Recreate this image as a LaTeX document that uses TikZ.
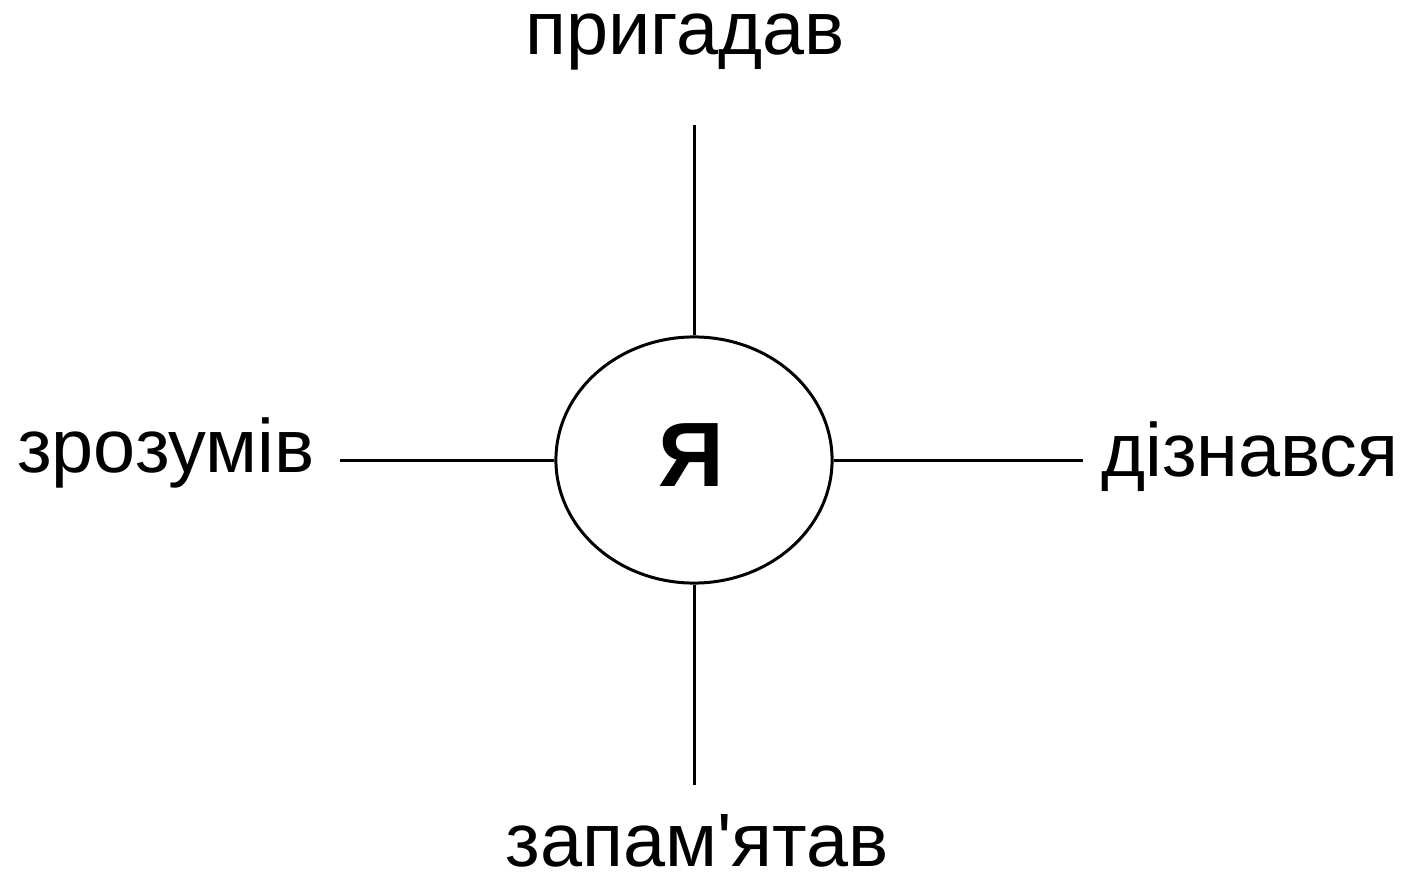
\documentclass[tikz,border=0pt]{standalone}
\usepackage{fontspec}
\setmainfont{Liberation Sans}[Ligatures=TeXOff]
\usetikzlibrary{positioning, shapes.geometric}
\tikzset{
  ring/.style = {draw, ellipse, minimum width=2.76cm, minimum height=2.46cm,
                 inner sep=0pt, line width=0.85pt},
  lbl/.style  = {anchor=base, inner sep=0pt, font=\fontsize{21.5}{24}\selectfont},
  spoke/.style= {line width=0.85pt},
}
\begin{document}
\begin{tikzpicture}[x=0.01cm, y=-0.01cm]
  \useasboundingbox (0,0) rectangle (1416,876);
  \node[ring] (me) at (694,460) {};
  \node[inner sep=0pt, font=\fontsize{26}{30}\selectfont\bfseries] (ya) at (691,455) {Я};
  \node[lbl] (up)    at (685,55)  {пригадав};
  \node[lbl] (left)  at (166,472) {зрозумів};
  \node[lbl] (right) at (1250,476) {дізнався};
  \node[lbl] (down)  at (697,866) {запам'ятав};
  \coordinate (upend)    at (694,125);
  \coordinate (leftend)  at (340,460);
  \coordinate (rightend) at (1083,460);
  \coordinate (downend)  at (694,785);
  \draw[spoke] (upend) -- (me.north);
  \draw[spoke] (leftend) -- (me.west);
  \draw[spoke] (me.east) -- (rightend);
  \draw[spoke] (me.south) -- (downend);
\end{tikzpicture}
\end{document}
